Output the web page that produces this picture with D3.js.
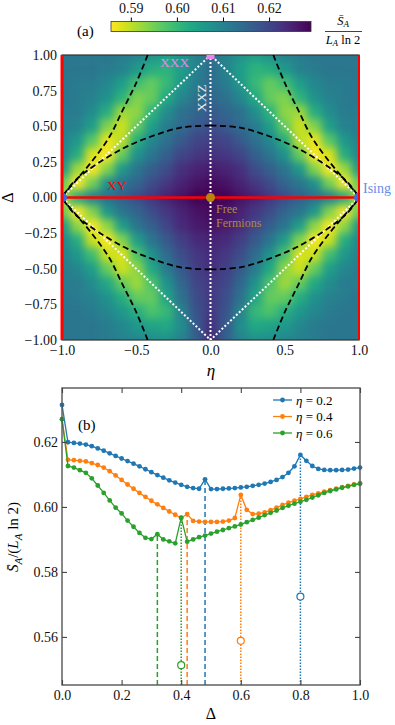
<!DOCTYPE html>
<html>
<head>
<meta charset="utf-8">
<script src="https://cdn.jsdelivr.net/npm/d3@7"></script>
<style>
  body { margin: 0; background: #fff; }
  svg { display: block; }
  text { font-family: "Liberation Serif", "Times New Roman", Times, "DejaVu Serif", "Noto Serif", serif; }
</style>
</head>
<body>
<script>
// ---------- panel (a): entropy map over (eta, Delta) ----------
// values for eta >= 0, mirrored to eta < 0
let etaGrid = [0, 0.1, 0.2, 0.3, 0.4, 0.5, 0.6, 0.7, 0.8, 0.9, 1.0]
let deltaGrid = [1.0, 0.9, 0.8, 0.7, 0.6, 0.5, 0.4, 0.3, 0.2, 0.1, 0.0,
                 -0.1, -0.2, -0.3, -0.4, -0.5, -0.6, -0.7, -0.8, -0.9, -1.0]
let heatRows = [
  [0.614, 0.610, 0.607, 0.605, 0.607, 0.610, 0.611, 0.612, 0.612, 0.612, 0.612],
  [0.614, 0.610, 0.605, 0.601, 0.602, 0.606, 0.610, 0.611, 0.612, 0.612, 0.612],
  [0.614, 0.611, 0.606, 0.600, 0.596, 0.599, 0.605, 0.609, 0.611, 0.611, 0.612],
  [0.615, 0.613, 0.609, 0.603, 0.596, 0.594, 0.601, 0.607, 0.610, 0.611, 0.612],
  [0.617, 0.615, 0.613, 0.608, 0.601, 0.593, 0.592, 0.602, 0.608, 0.611, 0.611],
  [0.619, 0.617, 0.614, 0.611, 0.605, 0.596, 0.589, 0.594, 0.605, 0.610, 0.611],
  [0.621, 0.620, 0.617, 0.613, 0.609, 0.602, 0.590, 0.587, 0.597, 0.606, 0.610],
  [0.623, 0.622, 0.620, 0.616, 0.612, 0.607, 0.596, 0.586, 0.588, 0.602, 0.609],
  [0.626, 0.625, 0.623, 0.619, 0.616, 0.612, 0.606, 0.594, 0.586, 0.592, 0.606],
  [0.628, 0.627, 0.625, 0.622, 0.619, 0.615, 0.612, 0.607, 0.595, 0.586, 0.596],
  [0.629, 0.629, 0.627, 0.625, 0.622, 0.619, 0.616, 0.613, 0.610, 0.603, 0.590],
  [0.628, 0.627, 0.625, 0.622, 0.619, 0.615, 0.612, 0.606, 0.594, 0.586, 0.596],
  [0.627, 0.626, 0.624, 0.620, 0.616, 0.612, 0.605, 0.593, 0.586, 0.593, 0.606],
  [0.625, 0.624, 0.621, 0.617, 0.612, 0.605, 0.594, 0.586, 0.589, 0.602, 0.609],
  [0.624, 0.622, 0.619, 0.614, 0.607, 0.598, 0.588, 0.589, 0.599, 0.606, 0.610],
  [0.623, 0.621, 0.617, 0.611, 0.603, 0.593, 0.589, 0.596, 0.605, 0.609, 0.611],
  [0.622, 0.620, 0.615, 0.607, 0.598, 0.592, 0.596, 0.603, 0.608, 0.611, 0.611],
  [0.622, 0.619, 0.613, 0.604, 0.596, 0.596, 0.602, 0.607, 0.610, 0.611, 0.612],
  [0.622, 0.618, 0.610, 0.600, 0.598, 0.602, 0.606, 0.609, 0.611, 0.612, 0.612],
  [0.623, 0.617, 0.608, 0.603, 0.604, 0.606, 0.609, 0.611, 0.612, 0.612, 0.612],
  [0.624, 0.616, 0.610, 0.607, 0.608, 0.609, 0.610, 0.611, 0.612, 0.612, 0.612]
]
let vmin = 0.5857, vmax = 0.6291

// critical lines (white dotted) and special lines
let diamondEta = [-1, 0, 1, 0, -1]
let diamondDelta = [0, 1, 0, -1, 0]
let xxzEta = [0, 0]
let xxzDelta = [-1, 1]
let xyEta = [-1, 1]
let edgeEta = [-1, 1]

// black dashed curves, first quadrant, mirrored to the others
let arcEta = [0, 0.2, 0.4, 0.6, 0.8, 0.9, 0.95, 1.0]
let arcDelta = [0.505, 0.49, 0.428, 0.338, 0.21, 0.13, 0.075, 0]
let steepEta = [0.423, 0.502, 0.591, 0.681, 0.793, 0.906, 0.984, 1.0]
let steepDelta = [1.0, 0.80, 0.613, 0.425, 0.261, 0.12, 0.026, 0]

let aXTicks = [-1, -0.5, 0, 0.5, 1]
let aYTicks = [-1, -0.75, -0.5, -0.25, 0, 0.25, 0.5, 0.75, 1]
let cbarTicks = [0.59, 0.60, 0.61, 0.62]

// ---------- panel (b): cuts at fixed eta ----------
let deltas = [0, 0.02, 0.04, 0.06, 0.08, 0.1, 0.12, 0.14, 0.16, 0.18, 0.2, 0.22, 0.24, 0.26, 0.28,
  0.3, 0.32, 0.34, 0.36, 0.38, 0.4, 0.42, 0.44, 0.46, 0.48, 0.5, 0.52, 0.54, 0.56, 0.58, 0.6,
  0.62, 0.64, 0.66, 0.68, 0.7, 0.72, 0.74, 0.76, 0.78, 0.8, 0.82, 0.84, 0.86, 0.88, 0.9, 0.92,
  0.94, 0.96, 0.98, 1.0]
let eta02 = [0.6314, 0.6199, 0.6197, 0.6195, 0.6192, 0.6187, 0.6180, 0.6173, 0.6165, 0.6157,
  0.6149, 0.6141, 0.6133, 0.6125, 0.6116, 0.6107, 0.6098, 0.6090, 0.6082, 0.6075,
  0.6068, 0.6062, 0.6058, 0.6056, 0.6085, 0.6055, 0.6055, 0.6056, 0.6057, 0.6058,
  0.6060, 0.6062, 0.6065, 0.6068, 0.6072, 0.6077, 0.6083, 0.6092, 0.6105, 0.6125,
  0.6160, 0.6142, 0.6126, 0.6117, 0.6114, 0.6113, 0.6113, 0.6114, 0.6115, 0.6118, 0.6121]
let eta04 = [0.6270, 0.6145, 0.6144, 0.6142, 0.6140, 0.6135, 0.6129, 0.6121, 0.6110, 0.6097,
  0.6083, 0.6069, 0.6056, 0.6043, 0.6031, 0.6019, 0.6008, 0.5997, 0.5986, 0.5976,
  0.5966, 0.5978, 0.5957, 0.5955, 0.5954, 0.5954, 0.5954, 0.5955, 0.5958, 0.5966,
  0.6037, 0.5991, 0.5978, 0.5979, 0.5983, 0.5990, 0.5998, 0.6006, 0.6013, 0.6019,
  0.6025, 0.6031, 0.6037, 0.6042, 0.6047, 0.6052, 0.6056, 0.6061, 0.6065, 0.6069, 0.6073]
let eta06 = [0.6270, 0.6126, 0.6121, 0.6113, 0.6105, 0.6088, 0.6066, 0.6043, 0.6020, 0.5998,
  0.5980, 0.5958, 0.5939, 0.5920, 0.5905, 0.5901, 0.5916, 0.5900, 0.5894, 0.5888,
  0.5967, 0.5893, 0.5900, 0.5907, 0.5912, 0.5918, 0.5924, 0.5929, 0.5935, 0.5940,
  0.5946, 0.5953, 0.5960, 0.5967, 0.5975, 0.5982, 0.5989, 0.5997, 0.6004, 0.6010,
  0.6016, 0.6022, 0.6029, 0.6036, 0.6043, 0.6049, 0.6054, 0.6059, 0.6063, 0.6068, 0.6071]
let seriesNames = ['0.2', '0.4', '0.6']
let seriesColors = ['#1f77b4', '#ff7f0e', '#2ca02c']
let dashedDelta = [0.48, 0.42, 0.32]   // dashed markers per series
let dottedDelta = [0.80, 0.60, 0.40]   // dotted markers per series
let openValue = [0.5724, 0.5588, 0.5513]
let bXTicks = [0, 0.2, 0.4, 0.6, 0.8, 1.0]
let bYTicks = [0.56, 0.58, 0.60, 0.62]

let svg = d3.select('body').append('svg')
  .attr('width', 395).attr('height', 725)

let defs = svg.append('defs')

let color = d3.scaleSequential(d3.interpolateViridis).domain([vmax, vmin])

// ================= panel (a) =================
let xA = d3.scaleLinear().domain([-1, 1]).range([62, 359])
let yA = d3.scaleLinear().domain([-1, 1]).range([340, 55])

defs.append('clipPath').attr('id', 'clipA')
  .append('rect')
  .attr('x', xA(-1)).attr('y', yA(1))
  .attr('width', xA(1) - xA(-1)).attr('height', yA(-1) - yA(1))

defs.append('filter').attr('id', 'smooth')
  .attr('x', '-10%').attr('y', '-10%').attr('width', '120%').attr('height', '120%')
  .attr('color-interpolation-filters', 'sRGB')
  .append('feGaussianBlur').attr('stdDeviation', 4)

let cells = []
deltaGrid.forEach((dl, r) => {
  etaGrid.forEach((e, c) => {
    cells.push({ eta: e, delta: dl, v: heatRows[r][c] })
    if (e > 0) cells.push({ eta: -e, delta: dl, v: heatRows[r][c] })
  })
})

let half = 0.05, pad = 16
let box = (d) => {
  let x0 = xA(d.eta - half), x1 = xA(d.eta + half)
  let y0 = yA(d.delta + half), y1 = yA(d.delta - half)
  if (d.eta < -0.999) x0 -= pad
  if (d.eta > 0.999) x1 += pad
  if (d.delta > 0.999) y0 -= pad
  if (d.delta < -0.999) y1 += pad
  return { x0, x1, y0, y1 }
}

let heat = svg.append('g').attr('clip-path', 'url(#clipA)')
  .append('g').attr('filter', 'url(#smooth)')

heat.selectAll('rect')
  .data(cells)
  .enter()
  .append('rect')
  .attr('x', d => box(d).x0)
  .attr('y', d => box(d).y0)
  .attr('width', d => box(d).x1 - box(d).x0 + 0.6)
  .attr('height', d => box(d).y1 - box(d).y0 + 0.6)
  .attr('fill', d => color(d.v))

// frame
svg.append('rect')
  .attr('x', xA(-1)).attr('y', yA(1))
  .attr('width', xA(1) - xA(-1)).attr('height', yA(-1) - yA(1))
  .attr('fill', 'none').attr('stroke', '#333').attr('stroke-width', 1.2)

let lineA = d3.line().x(d => xA(d[0])).y(d => yA(d[1]))
let overlay = svg.append('g').attr('clip-path', 'url(#clipA)')

// XY line and the eta = +-1 edges (red)
overlay.append('path')
  .attr('d', lineA(xyEta.map(e => [e, 0])))
  .attr('stroke', 'red').attr('stroke-width', 2.6).attr('fill', 'none')
svg.selectAll('.edge')
  .data(edgeEta)
  .enter()
  .append('line')
  .attr('class', 'edge')
  .attr('x1', d => xA(d)).attr('x2', d => xA(d))
  .attr('y1', yA(1)).attr('y2', yA(-1))
  .attr('stroke', 'red').attr('stroke-width', (d) => d < 0 ? 3 : 2)

// white dotted critical lines
overlay.append('path')
  .attr('d', lineA(diamondEta.map((e, i) => [e, diamondDelta[i]])))
  .attr('stroke', '#fff').attr('stroke-width', 2).attr('fill', 'none')
  .attr('stroke-dasharray', '2,2')
overlay.append('path')
  .attr('d', lineA(xxzEta.map((e, i) => [e, xxzDelta[i]])))
  .attr('stroke', '#fff').attr('stroke-width', 2).attr('fill', 'none')
  .attr('stroke-dasharray', '2,2')

// black dashed curves, mirrored into all four quadrants
let curveLine = d3.line().x(d => xA(d[0])).y(d => yA(d[1])).curve(d3.curveCatmullRom)
let mirrors = [[1, 1], [-1, 1], [1, -1], [-1, -1]]
mirrors.forEach(([sx, sy]) => {
  overlay.append('path')
    .attr('d', curveLine(arcEta.map((e, i) => [sx * e, sy * arcDelta[i]])))
    .attr('stroke', '#000').attr('stroke-width', 1.8).attr('fill', 'none')
    .attr('stroke-dasharray', '6,3.5')
  overlay.append('path')
    .attr('d', curveLine(steepEta.map((e, i) => [sx * e, sy * steepDelta[i]])))
    .attr('stroke', '#000').attr('stroke-width', 1.8).attr('fill', 'none')
    .attr('stroke-dasharray', '6,3.5')
})

// special points
overlay.selectAll('.ising')
  .data(edgeEta)
  .enter()
  .append('circle')
  .attr('class', 'ising')
  .attr('cx', d => xA(d)).attr('cy', yA(0)).attr('r', 5)
  .attr('fill', 'royalblue')
overlay.append('rect')
  .attr('x', xA(0) - 4).attr('y', yA(1) - 4)
  .attr('width', 8).attr('height', 8)
  .attr('fill', 'violet')
svg.append('circle')
  .attr('cx', xA(0)).attr('cy', yA(0)).attr('r', 4.5)
  .attr('fill', '#b8860b')

// labels inside the map
svg.append('text').attr('x', 160).attr('y', 67)
  .attr('font-size', 13.5).attr('fill', 'violet').text('XXX')
svg.append('text')
  .attr('transform', `translate(${xA(0) - 4.5}, 98) rotate(-90)`)
  .attr('text-anchor', 'middle')
  .attr('font-size', 13.5).attr('fill', '#eee').text('XXZ')
svg.append('text').attr('x', 107).attr('y', 190)
  .attr('font-size', 13.5).attr('fill', 'red').text('XY')
svg.append('text').attr('x', 363).attr('y', 193)
  .attr('font-size', 14).attr('fill', '#6a8ceb').text('Ising')
svg.append('text').attr('x', 216).attr('y', 213)
  .attr('font-size', 12).attr('fill', '#b08a3a').text('Free')
svg.append('text').attr('x', 216).attr('y', 227)
  .attr('font-size', 12).attr('fill', '#b08a3a').text('Fermions')
svg.append('text').attr('x', 77).attr('y', 36)
  .attr('font-size', 15).text('(a)')

// axes (a)
let styleAxis = (g) => {
  g.select('.domain').remove()
  g.attr('font-family', null).attr('font-size', 14)
  g.selectAll('text').attr('fill', '#111')
}
svg.append('g')
  .attr('transform', `translate(${xA(-1)},0)`)
  .call(d3.axisLeft(yA).tickValues(aYTicks).tickSize(0).tickPadding(5).tickFormat(d3.format('.2f')))
  .call(styleAxis)
svg.append('g')
  .attr('transform', `translate(0,${yA(-1)})`)
  .call(d3.axisBottom(xA).tickValues(aXTicks).tickSize(0).tickPadding(5).tickFormat(d3.format('.1f')))
  .call(styleAxis)

svg.append('text').attr('x', 211).attr('y', 376)
  .attr('text-anchor', 'middle').attr('font-size', 17).attr('font-style', 'italic').text('η')
svg.append('text')
  .attr('transform', `translate(13, ${yA(0)}) rotate(-90)`)
  .attr('text-anchor', 'middle').attr('font-size', 16).text('Δ')

// colorbar
let cx = d3.scaleLinear().domain([vmin, vmax]).range([111, 311])
let grad = defs.append('linearGradient').attr('id', 'cbar')
grad.selectAll('stop')
  .data(d3.range(0, 1.0001, 0.05))
  .enter()
  .append('stop')
  .attr('offset', d => d)
  .attr('stop-color', d => color(vmin + d * (vmax - vmin)))
svg.append('rect')
  .attr('x', cx(vmin)).attr('y', 21.5)
  .attr('width', cx(vmax) - cx(vmin)).attr('height', 10)
  .attr('fill', 'url(#cbar)').attr('stroke', '#333').attr('stroke-width', 0.8)
svg.append('g')
  .attr('transform', 'translate(0,21.5)')
  .call(d3.axisTop(cx).tickValues(cbarTicks).tickSize(4).tickPadding(5).tickFormat(d3.format('.2f')))
  .call(styleAxis)

let frac = svg.append('g').attr('font-size', 12.5)
let num = frac.append('text').attr('x', 343).attr('y', 24.5).attr('text-anchor', 'middle')
num.append('tspan').attr('font-style', 'italic').text('S\u0304')
num.append('tspan').attr('font-style', 'italic').attr('font-size', 9).attr('dy', 2.5).text('A')
frac.append('line').attr('x1', 325).attr('x2', 362).attr('y1', 31.5).attr('y2', 31.5)
  .attr('stroke', '#111').attr('stroke-width', 0.8)
let den = frac.append('text').attr('x', 343).attr('y', 43.5).attr('text-anchor', 'middle')
den.append('tspan').attr('font-style', 'italic').text('L')
den.append('tspan').attr('font-style', 'italic').attr('font-size', 9).attr('dy', 2.5).text('A')
den.append('tspan').attr('dy', -2.5).text(' ln 2')

// ================= panel (b) =================
let xB = d3.scaleLinear().domain([0, 1]).range([62, 360])
let yB = d3.scaleLinear().domain([0.5452, 0.6366]).range([685, 388])
let series = [eta02, eta04, eta06]

let gB = svg.append('g')

// guide lines from the axis up to the peaks
series.forEach((s, k) => {
  let i1 = Math.round(dashedDelta[k] / 0.02)
  gB.append('line')
    .attr('x1', xB(deltas[i1])).attr('x2', xB(deltas[i1]))
    .attr('y1', yB.range()[0]).attr('y2', yB(s[i1]))
    .attr('stroke', seriesColors[k]).attr('stroke-width', 1.5)
    .attr('stroke-dasharray', '5,3')
  let i2 = Math.round(dottedDelta[k] / 0.02)
  gB.append('line')
    .attr('x1', xB(deltas[i2])).attr('x2', xB(deltas[i2]))
    .attr('y1', yB.range()[0]).attr('y2', yB(s[i2]))
    .attr('stroke', seriesColors[k]).attr('stroke-width', 1.5)
    .attr('stroke-dasharray', '1.5,1.5')
  gB.append('circle')
    .attr('cx', xB(deltas[i2])).attr('cy', yB(openValue[k])).attr('r', 3.5)
    .attr('fill', '#fff').attr('stroke', seriesColors[k]).attr('stroke-width', 1.2)
})

let lineB = d3.line().x((d, i) => xB(deltas[i])).y(d => yB(d))
series.forEach((s, k) => {
  gB.append('path')
    .attr('d', lineB(s))
    .attr('fill', 'none').attr('stroke', seriesColors[k]).attr('stroke-width', 1.3)
  gB.selectAll('.pt' + k)
    .data(s)
    .enter()
    .append('circle')
    .attr('class', 'pt' + k)
    .attr('cx', (d, i) => xB(deltas[i])).attr('cy', d => yB(d)).attr('r', 2.4)
    .attr('fill', seriesColors[k])
})

// frame and inward ticks
svg.append('rect')
  .attr('x', xB(0)).attr('y', yB.range()[1])
  .attr('width', xB(1) - xB(0)).attr('height', yB.range()[0] - yB.range()[1])
  .attr('fill', 'none').attr('stroke', '#555').attr('stroke-width', 1.4)

let tickStyle = (g) => {
  styleAxis(g)
  g.selectAll('line').attr('stroke', '#444').attr('stroke-width', 1.1)
}
svg.append('g').attr('transform', `translate(0,${yB.range()[0]})`)
  .call(d3.axisBottom(xB).tickValues(bXTicks).tickSize(-5).tickPadding(5).tickFormat(d3.format('.1f')))
  .call(tickStyle)
svg.append('g').attr('transform', `translate(0,${yB.range()[1]})`)
  .call(d3.axisTop(xB).tickValues(bXTicks).tickSize(-5).tickFormat(''))
  .call(tickStyle)
svg.append('g').attr('transform', `translate(${xB(0)},0)`)
  .call(d3.axisLeft(yB).tickValues(bYTicks).tickSize(-5).tickPadding(4).tickFormat(d3.format('.2f')))
  .call(tickStyle)
svg.append('g').attr('transform', `translate(${xB(1)},0)`)
  .call(d3.axisRight(yB).tickValues(bYTicks).tickSize(-5).tickFormat(''))
  .call(tickStyle)

svg.append('text').attr('x', 78).attr('y', 430).attr('font-size', 15).text('(b)')

// legend
let legend = svg.append('g').attr('font-size', 13)
seriesNames.forEach((n, k) => {
  let ly = 400 + k * 16.5
  legend.append('line').attr('x1', 273).attr('x2', 292).attr('y1', ly).attr('y2', ly)
    .attr('stroke', seriesColors[k]).attr('stroke-width', 1.3)
  legend.append('circle').attr('cx', 282.5).attr('cy', ly).attr('r', 2.4).attr('fill', seriesColors[k])
  let t = legend.append('text').attr('x', 296).attr('y', ly + 4.5)
  t.append('tspan').attr('font-style', 'italic').text('η')
  t.append('tspan').text(' = ' + n)
})

// axis labels (b)
svg.append('text').attr('x', 211).attr('y', 719)
  .attr('text-anchor', 'middle').attr('font-size', 16).text('Δ')
let yl = svg.append('text')
  .attr('transform', 'translate(18,537) rotate(-90)')
  .attr('text-anchor', 'middle').attr('font-size', 15)
yl.append('tspan').attr('font-style', 'italic').text('S\u0304')
yl.append('tspan').attr('font-style', 'italic').attr('font-size', 11).attr('dy', 3.5).text('A')
yl.append('tspan').attr('dy', -3.5).text('/(')
yl.append('tspan').attr('font-style', 'italic').text('L')
yl.append('tspan').attr('font-style', 'italic').attr('font-size', 11).attr('dy', 3.5).text('A')
yl.append('tspan').attr('dy', -3.5).text(' ln 2)')
</script>
</body>
</html>
